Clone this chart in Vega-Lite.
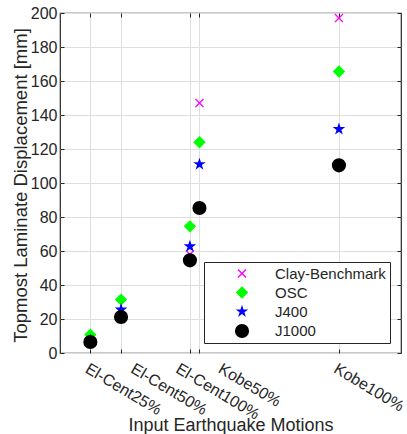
{
  "$schema": "https://vega.github.io/schema/vega-lite/v6.json",
  "width": 341,
  "height": 340,
  "autosize": {"type": "none"},
  "padding": {"left": 60, "top": 13, "right": 6, "bottom": 81},
  "background": "white",
  "config": {
    "font": "Liberation Sans",
    "view": {"stroke": "#262626", "strokeWidth": 1.2},
    "axis": {
      "labelFont": "Liberation Sans",
      "titleFont": "Liberation Sans",
      "labelColor": "#262626",
      "titleColor": "#262626",
      "titleFontWeight": "normal",
      "domain": false,
      "grid": true,
      "gridColor": "#dedede",
      "gridWidth": 1,
      "tickColor": "#262626",
      "tickSize": -4,
      "tickWidth": 1
    },
    "legend": {"labelFont": "Liberation Sans"}
  },
  "data": {
    "values": [
      {"series": "Clay-Benchmark", "motion": "El-Cent25%", "pga": 0.089, "disp": 6},
      {"series": "Clay-Benchmark", "motion": "El-Cent50%", "pga": 0.179, "disp": 20},
      {"series": "Clay-Benchmark", "motion": "El-Cent100%", "pga": 0.381, "disp": 58},
      {"series": "Clay-Benchmark", "motion": "Kobe50%", "pga": 0.409, "disp": 147},
      {"series": "Clay-Benchmark", "motion": "Kobe100%", "pga": 0.818, "disp": 197},
      {"series": "OSC", "motion": "El-Cent25%", "pga": 0.089, "disp": 10.8},
      {"series": "OSC", "motion": "El-Cent50%", "pga": 0.179, "disp": 31.4},
      {"series": "OSC", "motion": "El-Cent100%", "pga": 0.381, "disp": 74.5},
      {"series": "OSC", "motion": "Kobe50%", "pga": 0.409, "disp": 124},
      {"series": "OSC", "motion": "Kobe100%", "pga": 0.818, "disp": 165.6},
      {"series": "J400", "motion": "El-Cent25%", "pga": 0.089, "disp": 7.5},
      {"series": "J400", "motion": "El-Cent50%", "pga": 0.179, "disp": 25.5},
      {"series": "J400", "motion": "El-Cent100%", "pga": 0.381, "disp": 62.7},
      {"series": "J400", "motion": "Kobe50%", "pga": 0.409, "disp": 111},
      {"series": "J400", "motion": "Kobe100%", "pga": 0.818, "disp": 131.7},
      {"series": "J1000", "motion": "El-Cent25%", "pga": 0.089, "disp": 6.5},
      {"series": "J1000", "motion": "El-Cent50%", "pga": 0.179, "disp": 21.2},
      {"series": "J1000", "motion": "El-Cent100%", "pga": 0.381, "disp": 54.5},
      {"series": "J1000", "motion": "Kobe50%", "pga": 0.409, "disp": 85.3},
      {"series": "J1000", "motion": "Kobe100%", "pga": 0.818, "disp": 110.4}
    ]
  },
  "layer": [
    {
      "mark": {"type": "point", "filled": true, "opacity": 1},
      "encoding": {
        "x": {
          "field": "pga", "type": "quantitative",
          "scale": {"domain": [0, 1], "nice": false, "zero": false},
          "axis": {
            "orient": "bottom",
            "values": [0.089, 0.179, 0.381, 0.409, 0.818],
            "labelExpr": "datum.value < 0.1 ? 'El-Cent25%' : datum.value < 0.2 ? 'El-Cent50%' : datum.value < 0.395 ? 'El-Cent100%' : datum.value < 0.5 ? 'Kobe50%' : 'Kobe100%'",
            "labelAngle": 31,
            "labelAlign": "left",
            "labelBaseline": "top",
            "labelPadding": 11,
            "labelFontSize": 16,
            "labelOverlap": false,
            "labelBound": false,
            "labelOffset": {
              "condition": [
                {"test": "datum.value > 0.15 && datum.value < 0.2", "value": 15},
                {"test": "datum.value > 0.3 && datum.value < 0.395", "value": -9},
                {"test": "datum.value > 0.395 && datum.value < 0.5", "value": 24}
              ],
              "value": 0
            },
            "title": "Input Earthquake Motions",
            "titleFontSize": 18,
            "titleBaseline": "middle",
            "titleY": 72
          }
        },
        "y": {
          "field": "disp", "type": "quantitative",
          "scale": {"domain": [0, 200], "nice": false},
          "axis": {
            "orient": "left",
            "values": [0, 20, 40, 60, 80, 100, 120, 140, 160, 180, 200],
            "labelFontSize": 16,
            "labelPadding": 7,
            "title": "Topmost Laminate Displacement [mm]",
            "titleFontSize": 18.5,
            "titleBaseline": "middle",
            "titleX": -40,
            "titleY": 172
          }
        },
        "color": {
          "field": "series", "type": "nominal",
          "scale": {
            "domain": ["Clay-Benchmark", "OSC", "J400", "J1000"],
            "range": ["#ff00ff", "#00ff00", "#0000ff", "#000000"]
          },
          "legend": {
            "title": null,
            "orient": "none",
            "legendX": 144,
            "legendY": 249,
            "strokeColor": "#262626",
            "fillColor": "white",
            "padding": 4,
            "symbolOffset": 26,
            "labelOffset": 25,
            "labelFontSize": 15,
            "labelColor": "#262626",
            "rowPadding": 3,
            "symbolType": "circle"
          }
        },
        "shape": {
          "field": "series", "type": "nominal",
          "scale": {
            "domain": ["Clay-Benchmark", "OSC", "J400", "J1000"],
            "range": [
              "M0.792,-0.622L0.17,0L0.792,0.622L0.622,0.792L0,0.17L-0.622,0.792L-0.792,0.622L-0.17,0L-0.792,-0.622L-0.622,-0.792L0,-0.17L0.622,-0.792Z",
              "diamond",
              "M0,-1L0.2245,-0.309L0.951,-0.309L0.363,0.118L0.588,0.809L0,0.382L-0.588,0.809L-0.363,0.118L-0.951,-0.309L-0.2245,-0.309Z",
              "circle"
            ]
          }
        },
        "size": {
          "field": "series", "type": "nominal",
          "scale": {
            "domain": ["Clay-Benchmark", "OSC", "J400", "J1000"],
            "range": [130, 200, 160, 170]
          }
        }
      }
    },
    {
      "mark": {"type": "point", "opacity": 0},
      "encoding": {
        "x": {
          "field": "pga", "type": "quantitative",
          "axis": {"orient": "top", "values": [0.089, 0.179, 0.381, 0.409, 0.818], "labels": false, "grid": false, "title": null}
        },
        "y": {
          "field": "disp", "type": "quantitative",
          "axis": {"orient": "right", "values": [0, 20, 40, 60, 80, 100, 120, 140, 160, 180, 200], "labels": false, "grid": false, "title": null}
        }
      }
    }
  ],
  "resolve": {"axis": {"x": "independent", "y": "independent"}}
}
